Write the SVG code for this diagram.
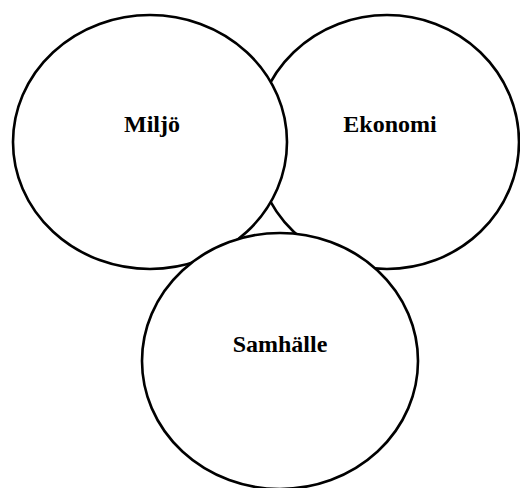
<svg xmlns="http://www.w3.org/2000/svg" width="520" height="488" viewBox="0 0 520 488">
<style>
.c{fill:#fff;stroke:#000;stroke-width:2.6}
.t{font-family:"Liberation Serif","Times New Roman",serif;font-weight:bold;font-size:24px;fill:#000;text-anchor:middle}
</style>
<rect width="520" height="488" fill="#fff"/>
<g id="connectors"></g>
<g id="ekonomi">
<ellipse class="c" cx="387" cy="142" rx="132" ry="127"/>
<text class="t" x="390" y="132">Ekonomi</text>
</g>
<g id="miljo">
<ellipse class="c" cx="150" cy="142" rx="137" ry="127"/>
<text class="t" x="152" y="132">Miljö</text>
</g>
<g id="samhalle">
<ellipse class="c" cx="280" cy="361" rx="138" ry="128"/>
<text class="t" x="280" y="352">Samhälle</text>
</g>
</svg>
